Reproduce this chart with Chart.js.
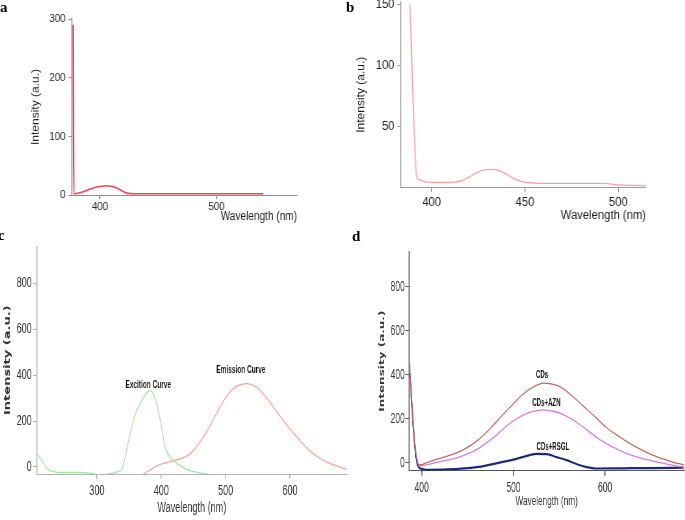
<!DOCTYPE html>
<html>
<head>
<meta charset="utf-8">
<script src="https://cdn.jsdelivr.net/npm/chart.js@4.4.1/dist/chart.umd.min.js"></script>
<style>
  html, body { margin: 0; padding: 0; background: #fff; }
  #page { position: relative; width: 685px; height: 520px; overflow: hidden; background: #fff; }
  .panel { position: absolute; }
  .panel canvas { transform-origin: 0 0; }
  .tag { position: absolute; font: bold 15px 'Liberation Serif', 'DejaVu Serif', serif; line-height: 15px; color: #000; }
</style>
</head>
<body>
<div id="page">
  <div class="panel"><canvas id="chartA"></canvas></div>
  <div class="panel"><canvas id="chartB"></canvas></div>
  <div class="panel"><canvas id="chartC"></canvas></div>
  <div class="panel"><canvas id="chartD"></canvas></div>
  <div class="tag" style="left:0px;top:0px">a</div>
  <div class="tag" style="left:346px;top:0px">b</div>
  <div class="tag" style="left:-2px;top:228px">c</div>
  <div class="tag" style="left:352px;top:229px">d</div>
</div>
<script>
// ---- panel a ----
const aWave = [377, 377.6, 380, 385, 390, 395, 400, 405, 410, 415, 420, 424, 430, 480, 540];
const aInt = [290, 2, 2.5, 5, 9, 12.5, 14.5, 15.8, 15, 11.5, 6, 2.8, 2.2, 2.2, 2.2];
const aXTicks = [400, 500];
const aYTicks = [0, 100, 200, 300];

// ---- panel b ----
const bWave = [388.4, 392, 394, 397, 405, 412, 416, 420, 424, 428, 432, 436, 440, 444, 448, 452, 458, 475, 492, 500, 515];
const bInt = [150, 9, 6, 4.6, 4.2, 4.4, 5.5, 8.5, 12, 14.5, 14.9, 14, 11, 7.5, 5, 4, 3.4, 3.3, 3.3, 2.2, 1.6];
const bXTicks = [400, 450, 500];
const bYTicks = [50, 100, 150];

// ---- panel c ----
const cExWave = [207, 215, 222, 232, 240, 255, 275, 285, 297, 300, 312, 316, 325, 333, 339, 343, 347, 354, 361, 367, 373, 378, 383, 388, 393, 397, 401, 406, 412, 419, 428, 440, 450, 462, 473];
const cExInt = [58, 25, -7, -20, -24, -24, -24, -27, -31, -45, -45, -31, -28, -20, -10, 30, 86, 172, 240, 273, 305, 325, 333, 318, 273, 225, 165, 86, 50, 28, 8, -12, -20, -27, -31];
const cEmWave = [372, 380, 390, 400, 410, 420, 430, 440, 450, 460, 470, 480, 490, 500, 510, 520, 533, 545, 555, 565, 575, 585, 600, 615, 630, 645, 660, 675, 688];
const cEmInt = [-31, -18, 0, 12, 20, 28, 36, 48, 72, 108, 152, 202, 255, 302, 337, 356, 363, 352, 328, 295, 258, 220, 165, 115, 72, 40, 18, 2, -11];
const cNames = ['Excition Curve', 'Emission Curve'];
const cXTicks = [300, 400, 500, 600];
const cYTicks = [0, 200, 400, 600, 800];

// ---- panel d ----
const dCdsWave = [386.5, 389, 392.5, 397.5, 410, 420, 440, 450, 460, 470, 480, 490, 500, 510, 520, 533, 545, 555, 565, 575, 590, 600, 615, 630, 650, 670, 686];
const dCdsInt = [450, 290, 90, -10, 8, 20, 48, 70, 98, 135, 180, 225, 268, 310, 340, 362, 355, 335, 300, 262, 205, 165, 120, 80, 38, 8, -10];
const dAznWave = [386.5, 389, 392.5, 397.5, 410, 420, 440, 450, 460, 470, 480, 490, 500, 510, 520, 532, 545, 555, 565, 575, 590, 600, 615, 630, 650, 670, 686];
const dAznInt = [450, 290, 85, -15, -5, 5, 25, 40, 60, 88, 120, 158, 190, 215, 232, 240, 233, 218, 195, 165, 118, 90, 58, 33, 10, -8, -20];
const dRsglWave = [386.5, 389, 392.5, 396, 400, 405, 420, 440, 460, 475, 490, 500, 512, 525, 536, 547, 558, 570, 580, 590, 620, 650, 686];
const dRsglInt = [452, 285, 75, -15, -28, -32, -31, -28, -20, -8, 5, 14, 28, 40, 39, 26, 12, -8, -20, -26, -25, -24, -22];
const dNames = ['CDs', 'CDs+AZN', 'CDs+RSGL'];
const dXTicks = [400, 500, 600];
const dYTicks = [0, 200, 400, 600, 800];

const pts = (xs, ys) => xs.map((x, i) => ({ x: x, y: ys[i] }));

// draws text labels next to curves, anchored in data units
const curveLabels = {
  id: 'curveLabels',
  afterDatasetsDraw(chart, args, opts) {
    if (!opts.items) return;
    const ctx = chart.ctx, xs = chart.scales.x, ys = chart.scales.y;
    ctx.save();
    ctx.font = opts.font;
    ctx.fillStyle = opts.color;
    ctx.textAlign = 'center';
    ctx.textBaseline = 'middle';
    opts.items.forEach(it => ctx.fillText(it.text, xs.getPixelForValue(it.x), ys.getPixelForValue(it.y)));
    ctx.restore();
  }
};

function line(data, color, width) {
  return {
    data: data, borderColor: color, borderWidth: width, pointRadius: 0,
    cubicInterpolationMode: 'monotone', fill: false
  };
}

function drawPanel(id, p, datasets, labelItems) {
  const canvas = document.getElementById(id);
  const wrap = canvas.parentNode;
  wrap.style.left = p.ox + 'px';
  wrap.style.top = p.oy + 'px';
  const CW = Math.round(p.pw / p.sx), CH = p.ph;
  canvas.width = CW;
  canvas.height = CH;
  canvas.style.transform = 'scaleX(' + p.sx + ')';

  const toX = v => (v - p.ox) / p.sx;
  const L = toX(p.area[0]), R = toX(p.area[2]);
  const T = p.area[1] - p.oy, B = p.area[3] - p.oy;
  const yLH = p.yTitleFont.size * 1.2, xLH = p.xTitleFont.size * 1.2;
  const padL = toX(p.yTitleX) - yLH / 2;
  const padB = CH - (p.xTitleY - p.oy) - xLH / 2;
  const tickFont = { family: p.tickFamily, size: p.tickSize };

  new Chart(canvas, {
    type: 'line',
    data: { datasets: datasets },
    plugins: [curveLabels],
    options: {
      responsive: false,
      animation: false,
      devicePixelRatio: 1,
      events: [],
      layout: { padding: { left: padL, top: T, right: CW - R, bottom: padB } },
      plugins: {
        legend: { display: false },
        tooltip: { enabled: false },
        curveLabels: { items: labelItems, font: p.labelFont, color: '#111' }
      },
      scales: {
        x: {
          type: 'linear',
          min: p.xRange[0],
          max: p.xRange[1],
          afterBuildTicks: s => { s.ticks = p.xTicks.map(v => ({ value: v })); },
          afterFit: s => { s.height = CH - padB - B; },
          grid: { drawOnChartArea: false, drawTicks: true, tickLength: p.xTickLen, tickColor: p.axisColor, lineWidth: 1 / p.sx },
          border: { display: true, color: p.axisColor, width: 1 },
          ticks: { font: tickFont, color: p.tickColor, padding: p.xTickPad, maxRotation: 0, autoSkip: false },
          title: { display: true, text: 'Wavelength (nm)', align: p.xTitleAlign, font: p.xTitleFont, color: p.tickColor, padding: 0 }
        },
        y: {
          min: p.yRange[0],
          max: p.yRange[1],
          afterBuildTicks: s => { s.ticks = p.yTicks.map(v => ({ value: v })); },
          afterFit: s => { s.width = L - padL; },
          grid: { drawOnChartArea: false, drawTicks: true, tickLength: p.yTickLen / p.sx, tickColor: p.axisColor },
          border: { display: true, color: p.axisColor, width: 1 / p.sx },
          ticks: { font: tickFont, color: p.tickColor, padding: p.yTickPad / p.sx, autoSkip: false },
          title: { display: true, text: 'Intensity (a.u.)', font: p.yTitleFont, color: p.yTitleColor, padding: 0 }
        }
      }
    }
  });
}

const sans = "'Liberation Sans', Arial, sans-serif";

drawPanel('chartA', {
  ox: 0, oy: 0, pw: 340, ph: 232, sx: 0.84,
  area: [72, 19, 297, 195],
  xRange: [376, 569], yRange: [0, 300], xTicks: aXTicks, yTicks: aYTicks,
  tickFamily: sans, tickSize: 11.5, tickColor: '#222', axisColor: '#8c8c8c',
  xTickLen: 4, xTickPad: 0.5, yTickLen: 3.5, yTickPad: 3,
  yTitleX: 36, yTitleFont: { family: sans, size: 12 }, yTitleColor: '#222',
  xTitleY: 217, xTitleAlign: 'end', xTitleFont: { family: sans, size: 12 },
  labelFont: 'bold 10px ' + sans
}, [line(pts(aWave, aInt), '#f2414f', 1.6)], []);

drawPanel('chartB', {
  ox: 340, oy: -12, pw: 345, ph: 244, sx: 0.9,
  area: [401, 2, 646, 187.5],
  xRange: [383.6, 514.8], yRange: [0, 152], xTicks: bXTicks, yTicks: bYTicks,
  tickFamily: sans, tickSize: 12.5, tickColor: '#222', axisColor: '#9a9a9a',
  xTickLen: 4.5, xTickPad: 3, yTickLen: 3.5, yTickPad: 3,
  yTitleX: 361.7, yTitleFont: { family: sans, size: 12 }, yTitleColor: '#222',
  xTitleY: 215.8, xTitleAlign: 'end', xTitleFont: { family: sans, size: 12.5 },
  labelFont: 'bold 10px ' + sans
}, [line(pts(bWave, bInt), '#ff9d9d', 1.3)], []);

drawPanel('chartC', {
  ox: 0, oy: 236, pw: 352, ph: 284, sx: 0.65,
  area: [37, 243, 346.7, 474],
  xRange: [207, 688], yRange: [-31, 962], xTicks: cXTicks, yTicks: cYTicks,
  tickFamily: sans, tickSize: 14, tickColor: '#333', axisColor: '#b4b4b4',
  xTickLen: 5, xTickPad: 4, yTickLen: 4, yTickPad: 1.3,
  yTitleX: 7.5, yTitleFont: { family: "'DejaVu Sans', sans-serif", size: 13, weight: 'bold' }, yTitleColor: '#333',
  xTitleY: 508, xTitleAlign: 'center', xTitleFont: { family: sans, size: 14 },
  labelFont: 'bold 10px ' + sans
}, [
  line(pts(cExWave, cExInt), '#9be89b', 1.3),
  line(pts(cEmWave, cEmInt), '#ff9a9a', 1.3)
], [
  { text: cNames[0], x: 379.7, y: 356 },
  { text: cNames[1], x: 523.6, y: 420 }
]);

drawPanel('chartD', {
  ox: 350, oy: 236, pw: 335, ph: 284, sx: 0.61,
  area: [409.3, 251.7, 684, 470.7],
  xRange: [386.5, 686], yRange: [-36, 959], xTicks: dXTicks, yTicks: dYTicks,
  tickFamily: sans, tickSize: 14, tickColor: '#333', axisColor: '#555',
  xTickLen: 5, xTickPad: 4, yTickLen: 4, yTickPad: 0.5,
  yTitleX: 382, yTitleFont: { family: "'DejaVu Sans', sans-serif", size: 12, weight: 'bold' }, yTitleColor: '#333',
  xTitleY: 501.7, xTitleAlign: 'center', xTitleFont: { family: sans, size: 13.5 },
  labelFont: 'bold 10px ' + sans
}, [
  line(pts(dCdsWave, dCdsInt), '#c0645c', 1.3),
  line(pts(dAznWave, dAznInt), '#d678dc', 1.3),
  line(pts(dRsglWave, dRsglInt), '#1c2878', 2.2)
], [
  { text: dNames[0], x: 531.2, y: 398 },
  { text: dNames[1], x: 536, y: 270 },
  { text: dNames[2], x: 543, y: 72 }
]);
</script>
</body>
</html>
